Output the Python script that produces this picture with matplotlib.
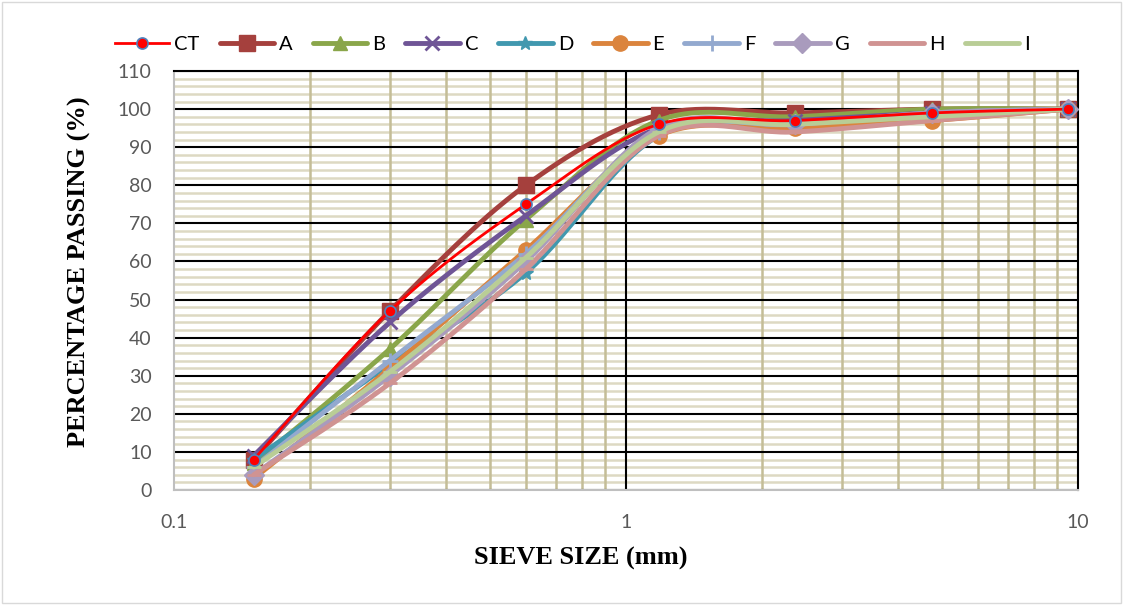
import numpy as np
import matplotlib
matplotlib.use("Agg")
import matplotlib.pyplot as plt
from matplotlib.ticker import FixedLocator, NullFormatter, FixedFormatter
from matplotlib.lines import Line2D

sieve = [0.15, 0.3, 0.6, 1.18, 2.36, 4.75, 9.5]
CT = [8, 47, 75, 96, 97, 99, 100]
A = [8, 47, 80, 98.5, 99, 100, 100]
B = [7, 37, 71, 97, 98, 100, 100]
C = [9, 44, 72, 95, 97, 99, 100]
D = [8, 33, 57, 93, 96, 98, 100]
E = [3, 32, 63, 93, 95, 97, 100]
F = [6, 34, 62, 94, 96, 99, 100]
G = [4, 30, 60, 95, 96, 99, 100]
H = [4, 28, 58, 93, 94, 97, 100]
I = [6, 31, 61, 94, 96, 98, 100]

names = ["CT", "A", "B", "C", "D", "E", "F", "G", "H", "I"]
series = [CT, A, B, C, D, E, F, G, H, I]
colors = ["#FF0000", "#A5403D", "#8AA64A", "#6F5596", "#4198AF",
          "#DB843D", "#93A9CF", "#A99BBD", "#D09392", "#B9CD96"]
markers = ["o", "s", "^", "x", "*", "o", "+", "D", "_", "_"]
msizes = [8, 11, 10, 10, 10, 11, 11, 10, 10, 10]
lws = [2.0, 3.5, 3.5, 3.5, 3.5, 3.5, 3.5, 3.5, 3.5, 3.5]


def smooth(xs, ys, n=30):
    # Excel-style smoothed line: cubic Bezier with Catmull-Rom control points in (log x, y)
    px = np.log10(np.array(xs, float))
    py = np.array(ys, float)
    P = np.column_stack([px, py])
    out = [P[0]]
    m = len(P)
    for i in range(m - 1):
        p0 = P[i - 1] if i > 0 else P[i]
        p1 = P[i]
        p2 = P[i + 1]
        p3 = P[i + 2] if i + 2 < m else P[i + 1]
        c1 = p1 + (p2 - p0) / 6.0
        c2 = p2 - (p3 - p1) / 6.0
        t = np.linspace(0, 1, n)[1:, None]
        seg = ((1 - t) ** 3) * p1 + 3 * ((1 - t) ** 2) * t * c1 + 3 * (1 - t) * t ** 2 * c2 + t ** 3 * p2
        out.extend(seg)
    out = np.array(out)
    return 10 ** out[:, 0], out[:, 1]


fig = plt.figure(figsize=(11.23, 6.05), dpi=100)
ax = fig.add_axes([0.155, 0.19, 0.805, 0.6926])

ax.set_xscale("log")
ax.set_xlim(0.1, 10)
ax.set_ylim(0, 110)

yticks = list(range(0, 111, 10))
yminor = [v for v in range(0, 111, 2) if v % 10 != 0]
xminor = [k * 0.1 for k in range(2, 10)] + [float(k) for k in range(2, 10)]

ax.yaxis.set_major_locator(FixedLocator(yticks))
ax.xaxis.set_major_locator(FixedLocator([0.1, 1, 10]))
ax.xaxis.set_major_formatter(FixedFormatter(["0.1", "1", "10"]))
ax.xaxis.set_minor_formatter(NullFormatter())

# gridlines drawn explicitly for layering control
for v in yminor:
    ax.axhline(v, color="#DDD9C3", lw=1.8, zorder=0.1)
for v in xminor:
    ax.axvline(v, color="#C4BD97", lw=1.8, zorder=0.2)
for v in yticks:
    ax.axhline(v, color="black", lw=1.5, zorder=0.5)
ax.axvline(1, color="black", lw=1.5, zorder=0.5)

ax.tick_params(which="both", length=0)
ax.tick_params(axis="both", labelsize=14, colors="#595959")
ax.tick_params(axis="y", pad=16)
ax.tick_params(axis="x", pad=17)
for lab in ax.get_xticklabels() + ax.get_yticklabels():
    lab.set_family("Lato")

for s in ["left", "bottom"]:
    ax.spines[s].set_color("#BFBFBF")
    ax.spines[s].set_linewidth(1.5)
for s in ["top", "right"]:
    ax.spines[s].set_color("black")
    ax.spines[s].set_linewidth(1.5)

order = list(range(1, 10)) + [0]
for i in order:
    xs, ys = smooth(sieve, series[i])
    ax.plot(xs, ys, color=colors[i], lw=lws[i], zorder=3 + (i == 0), solid_capstyle="round")
    if i == 0:
        ax.plot(sieve, series[i], ls="none", marker="o", ms=msizes[i], mfc="#FF0000",
                mec="#4F81BD", mew=1.2, zorder=5)
    else:
        mk = markers[i]
        ax.plot(sieve, series[i], ls="none", marker=mk, ms=msizes[i], color=colors[i],
                mew=2 if mk in ("x", "+", "_") else 1, zorder=3)

handles = []
for i in range(10):
    if i == 0:
        h = Line2D([], [], color=colors[i], lw=lws[i], marker="o", ms=msizes[i],
                   mfc="#FF0000", mec="#4F81BD", mew=1.2)
    else:
        mk = markers[i]
        h = Line2D([], [], color=colors[i], lw=3.5, marker=mk, ms=msizes[i],
                   mew=2 if mk in ("x", "+", "_") else 1, solid_capstyle="round")
    handles.append(h)

leg = fig.legend(handles, names, loc="center left", bbox_to_anchor=(0.086, 0.927),
                 ncol=10, frameon=False, handlelength=2.7, handletextpad=0.25,
                 columnspacing=1.0, prop={"family": "Lato", "size": 14.5})

ax.set_xlabel("SIEVE SIZE (mm)", family="Liberation Serif", weight="bold", size=19)
ax.xaxis.set_label_coords(0.45, -0.135)
ax.set_ylabel("PERCENTAGE PASSING (%)", family="Liberation Serif", weight="bold", size=19)
ax.yaxis.set_label_coords(-0.092, 0.52)

fig.patches.append(plt.Rectangle((0.002, 0.003), 0.996, 0.994, transform=fig.transFigure,
                                 fill=False, edgecolor="#D9D9D9", lw=1))

fig.savefig("out.png", dpi=100)
